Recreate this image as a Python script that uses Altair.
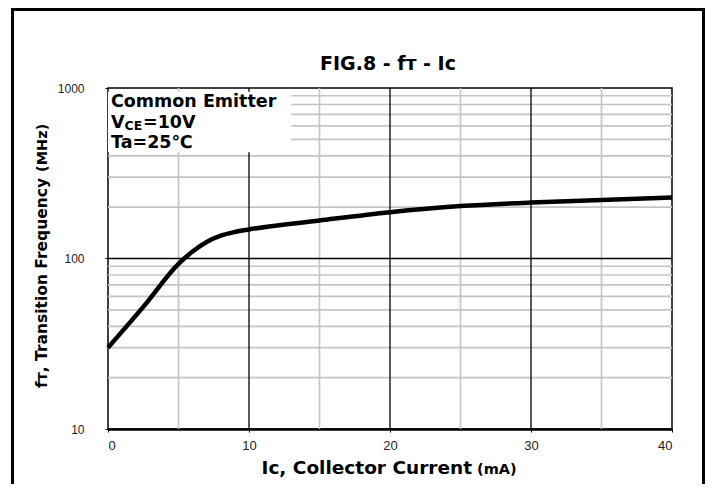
import altair as alt
import pandas as pd

# ---- data ----
ic_ma = [0, 2.5, 5, 6, 7, 8, 9, 10, 15, 20, 25, 30, 35, 40]
ft_mhz = [30, 52, 93, 110, 125, 136, 143, 148, 167, 187, 203, 213, 220, 228]

x_ticks = [0, 10, 20, 30, 40]
y_ticks = [10, 100, 1000]
x_major_grid = [10, 20, 30]
x_minor_grid = [5, 15, 25, 35]
y_major_grid = [100]
y_minor_grid = [20, 30, 40, 50, 60, 70, 80, 90, 200, 300, 400, 500, 600, 700, 800, 900]

box_x = [0, 13]
box_y = [420, 950]

title_text = "FIG.8 - fᴛ - Iᴄ"
x_title_main = "Iᴄ, Collector Current"
x_title_unit = "(mA)"
y_title_main = "fᴛ, Transition Frequency"
y_title_unit = "(MHz)"
note_line1 = "Common Emitter"
note_v = "V"
note_ce = "CE"
note_vrest = "=10V"
note_line3 = "Ta=25℃"

BOLD = "DejaVu Sans"
REG = "Liberation Sans"

xscale = alt.Scale(domain=[0, 40], nice=False, zero=False)
yscale = alt.Scale(type="log", domain=[10, 1000], nice=False)

x_axis = alt.Axis(
    values=x_ticks, title=None, grid=False, format="d", labelPadding=7, labelFontSize=13,
    tickSize=3, tickColor="black", domainColor="black", domainWidth=2.5,
)
y_axis = alt.Axis(
    values=y_ticks, title=None, grid=False, format="d", labelPadding=21, labelFontSize=12,
    tickSize=3, tickColor="black", domain=False,
)

curve_df = pd.DataFrame({"ic": ic_ma, "ft": ft_mhz})


def vrules(vals, color, width):
    return alt.Chart(pd.DataFrame({"v": vals})).mark_rule(color=color, strokeWidth=width).encode(
        x=alt.X("v:Q", scale=xscale, axis=x_axis)
    )


def hrules(vals, color, width):
    return alt.Chart(pd.DataFrame({"v": vals})).mark_rule(color=color, strokeWidth=width).encode(
        y=alt.Y("v:Q", scale=yscale, axis=y_axis)
    )


grid_layers = [
    vrules(x_minor_grid, "#c4c4c4", 1.6),
    hrules(y_minor_grid, "#c4c4c4", 1.6),
    vrules(x_major_grid, "black", 1.3),
    hrules(y_major_grid, "black", 1.3),
]

box = alt.Chart(pd.DataFrame({"x0": [box_x[0]], "x1": [box_x[1]], "y0": [box_y[0]], "y1": [box_y[1]]})).mark_rect(
    color="white"
).encode(
    x=alt.X("x0:Q", scale=xscale, axis=x_axis),
    x2="x1:Q",
    y=alt.Y("y0:Q", scale=yscale, axis=y_axis),
    y2="y1:Q",
)

curve = alt.Chart(curve_df).mark_line(interpolate="monotone", color="black", strokeWidth=4.5).encode(
    x=alt.X("ic:Q", scale=xscale, axis=x_axis),
    y=alt.Y("ft:Q", scale=yscale, axis=y_axis),
)


def txt(s, x, y, size, bold=True, align="left", angle=0, font=None):
    kw = dict(
        align=align, baseline="alphabetic", fontSize=size,
        font=font or (BOLD if bold else REG), fontWeight="bold" if bold else "normal",
        color="black",
    )
    if angle:
        kw["angle"] = angle
    return alt.Chart(pd.DataFrame({"t": [s]})).mark_text(**kw).encode(
        text="t:N", x=alt.value(x), y=alt.value(y)
    )


texts = [
    txt(title_text, 280, -18, 19, align="center"),
    txt(x_title_main, 364, 386, 18.5, align="right"),
    txt(x_title_unit, 369, 386, 14.5, align="left"),
    txt(y_title_main, -61, 300, 15.5, align="left", angle=270),
    txt(y_title_unit, -61, 84, 14.5, align="left", angle=270),
    txt(note_line1, 3, 19, 17.5),
    txt(note_v, 3, 39.5, 17.5),
    txt(note_ce, 16.5, 41.5, 12.5),
    txt(note_vrest, 35, 39.5, 17.5),
    txt(note_line3, 3, 60, 17.5),
]

frame = alt.Chart(pd.DataFrame({"t": ["frame"]})).mark_rect(
    fillOpacity=0, stroke="black", strokeWidth=3
).encode(
    x=alt.value(-95.5), x2=alt.value(595.5), y=alt.value(-78.5), y2=alt.value(420)
)

chart = alt.layer(*grid_layers, box, curve, *texts, frame).properties(
    width=564,
    height=341,
    autosize=alt.AutoSizeParams(type="none"),
    padding={"left": 100, "top": 80, "right": 33, "bottom": 55},
    background="white",
).configure_view(
    stroke="black", strokeWidth=1.5
).configure_axis(
    labelFont=REG, labelFontWeight="normal", labelColor="#222"
)

chart.save("out.html", embed_options={"renderer": "svg", "actions": False})
